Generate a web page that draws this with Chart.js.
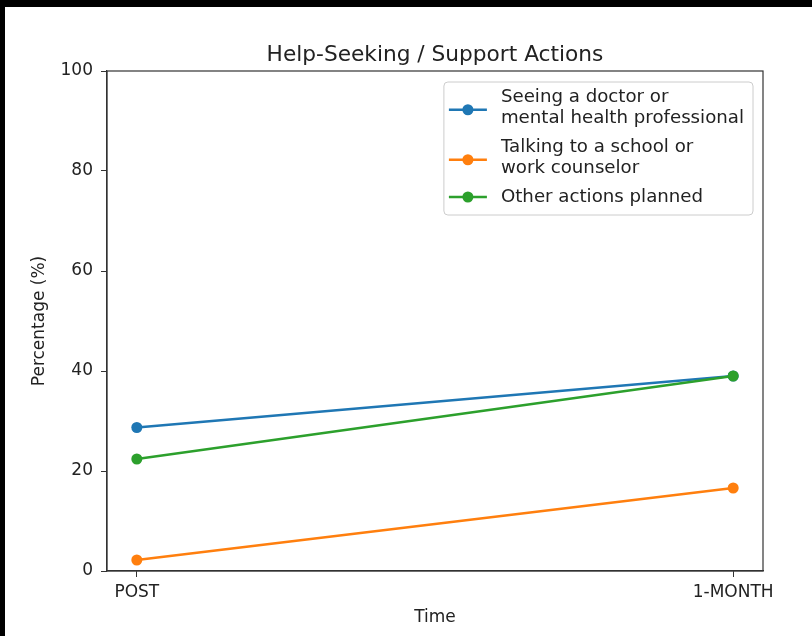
<!DOCTYPE html>
<html><head><meta charset="utf-8">
<script src="https://cdn.jsdelivr.net/npm/chart.js@4.4.0/dist/chart.umd.min.js"></script>
<style>
html,body{margin:0;padding:0;background:#000;width:812px;height:636px;overflow:hidden;}
#wrap{position:absolute;left:5px;top:7px;width:807px;height:629px;background:#fff;}
canvas{display:block;}
</style></head><body>
<div id="wrap"><canvas id="c" width="807" height="629"></canvas></div>
<script>
const chartTitle = 'Help-Seeking / Support Actions';
const timePoints = ['POST', '1-MONTH'];
const seriesLabels = [
  ['Seeing a doctor or', 'mental health professional'],
  ['Talking to a school or', 'work counselor'],
  ['Other actions planned']
];
const doctorValues = [28.7, 39.0];
const counselorValues = [2.2, 16.6];
const otherValues = [22.4, 39.0];
const yTickValues = [0, 20, 40, 60, 80, 100];
const seriesColors = ['#1f77b4', '#ff7f0e', '#2ca02c'];

const FONT = '"DejaVu Sans", sans-serif';
const TXT = '#222';
const AXC = '#333';

function toPoints(vals){ return vals.map((v,i)=>({x:i, y:v})); }
const allValues = [doctorValues, counselorValues, otherValues];

const datasets = allValues.map((vals, i) => ({
  label: seriesLabels[i].join(' '),
  data: toPoints(vals),
  borderColor: seriesColors[i],
  backgroundColor: seriesColors[i],
  pointBackgroundColor: seriesColors[i],
  pointBorderWidth: 0,
  pointRadius: 5.5,
  borderWidth: 2.5,
  tension: 0,
  clip: false,
  order: 3 - i
}));

const framePlugin = {
  id: 'frame',
  afterDatasetsDraw(chart){
    const {ctx, chartArea: a} = chart;
    ctx.save();
    ctx.strokeStyle = AXC;
    ctx.lineWidth = 1.2;
    ctx.strokeRect(a.left, a.top, a.right - a.left, a.bottom - a.top);
    ctx.restore();
  }
};

const titlePlugin = {
  id: 'axTitle',
  afterDraw(chart){
    const {ctx, chartArea: a} = chart;
    ctx.save();
    ctx.font = '21.7px ' + FONT;
    ctx.fillStyle = TXT;
    ctx.textAlign = 'center';
    ctx.textBaseline = 'middle';
    ctx.fillText(chartTitle, (a.left + a.right) / 2, 48);
    ctx.restore();
  }
};

const legendPlugin = {
  id: 'mplLegend',
  afterDraw(chart){
    const {ctx, chartArea: a} = chart;
    ctx.save();
    ctx.font = '18.2px ' + FONT;
    let maxW = 0;
    seriesLabels.forEach(ls => ls.forEach(t => { maxW = Math.max(maxW, ctx.measureText(t).width); }));
    const lineH = 21.5, entryGap = 28.5, padTop = 15, padBot = 18;
    let totalH = padTop + padBot;
    seriesLabels.forEach((ls, i) => { totalH += (ls.length - 1) * lineH; if (i > 0) totalH += entryGap; });
    const boxW = 57 + maxW + 9;
    const right = a.right - 10;
    const left = right - boxW;
    const top = a.top + 11;
    ctx.beginPath();
    ctx.roundRect(left, top, boxW, totalH, 4);
    ctx.fillStyle = 'rgba(255,255,255,0.8)';
    ctx.fill();
    ctx.strokeStyle = '#cccccc';
    ctx.lineWidth = 1;
    ctx.stroke();
    let y = top + padTop;
    seriesLabels.forEach((ls, i) => {
      const first = y;
      ctx.fillStyle = TXT;
      ctx.textBaseline = 'middle';
      ctx.textAlign = 'left';
      ls.forEach((t, k) => { ctx.fillText(t, left + 57, y + k * lineH); });
      const last = y + (ls.length - 1) * lineH;
      const hy = (first + last) / 2 + (ls.length > 1 ? 2 : 0);
      ctx.strokeStyle = seriesColors[i];
      ctx.lineWidth = 2.5;
      ctx.beginPath();
      ctx.moveTo(left + 5, hy);
      ctx.lineTo(left + 43, hy);
      ctx.stroke();
      ctx.fillStyle = seriesColors[i];
      ctx.beginPath();
      ctx.arc(left + 24, hy, 5.5, 0, Math.PI * 2);
      ctx.fill();
      y = last + entryGap;
    });
    ctx.restore();
  }
};

new Chart(document.getElementById('c'), {
  type: 'line',
  data: { datasets },
  plugins: [framePlugin, titlePlugin, legendPlugin],
  options: {
    responsive: false,
    animation: false,
    layout: { padding: { left: 0, right: 49, top: 64, bottom: 0 } },
    plugins: {
      legend: { display: false },
      tooltip: { enabled: false },
      title: { display: false }
    },
    scales: {
      x: {
        type: 'linear',
        min: -0.05, max: 1.05,
        afterBuildTicks: s => { s.ticks = timePoints.map((_, i) => ({ value: i })); },
        ticks: {
          callback: v => timePoints[v],
          color: TXT, font: { family: FONT, size: 17 },
          padding: 5, maxRotation: 0, autoSkip: false
        },
        grid: { display: true, drawOnChartArea: false, drawTicks: true, tickLength: 6, tickColor: AXC, tickWidth: 1 },
        border: { display: true, color: AXC, width: 1.2 },
        title: { display: true, text: 'Time', color: TXT, font: { family: FONT, size: 17 }, padding: { top: 0, bottom: 8 } },
        afterFit: s => { s.height = 65; }
      },
      y: {
        type: 'linear',
        min: 0, max: 100,
        afterBuildTicks: s => { s.ticks = yTickValues.map(v => ({ value: v })); },
        ticks: { color: TXT, font: { family: FONT, size: 17 }, padding: 8 },
        grid: { display: true, drawOnChartArea: false, drawTicks: true, tickLength: 6, tickColor: AXC, tickWidth: 1 },
        border: { display: true, color: AXC, width: 1.2 },
        title: { display: true, text: 'Percentage (%)', color: TXT, font: { family: FONT, size: 17 }, padding: { top: 24.8, bottom: 0 } },
        afterFit: s => { s.width = 102; }
      }
    }
  }
});
</script>
</body></html>
